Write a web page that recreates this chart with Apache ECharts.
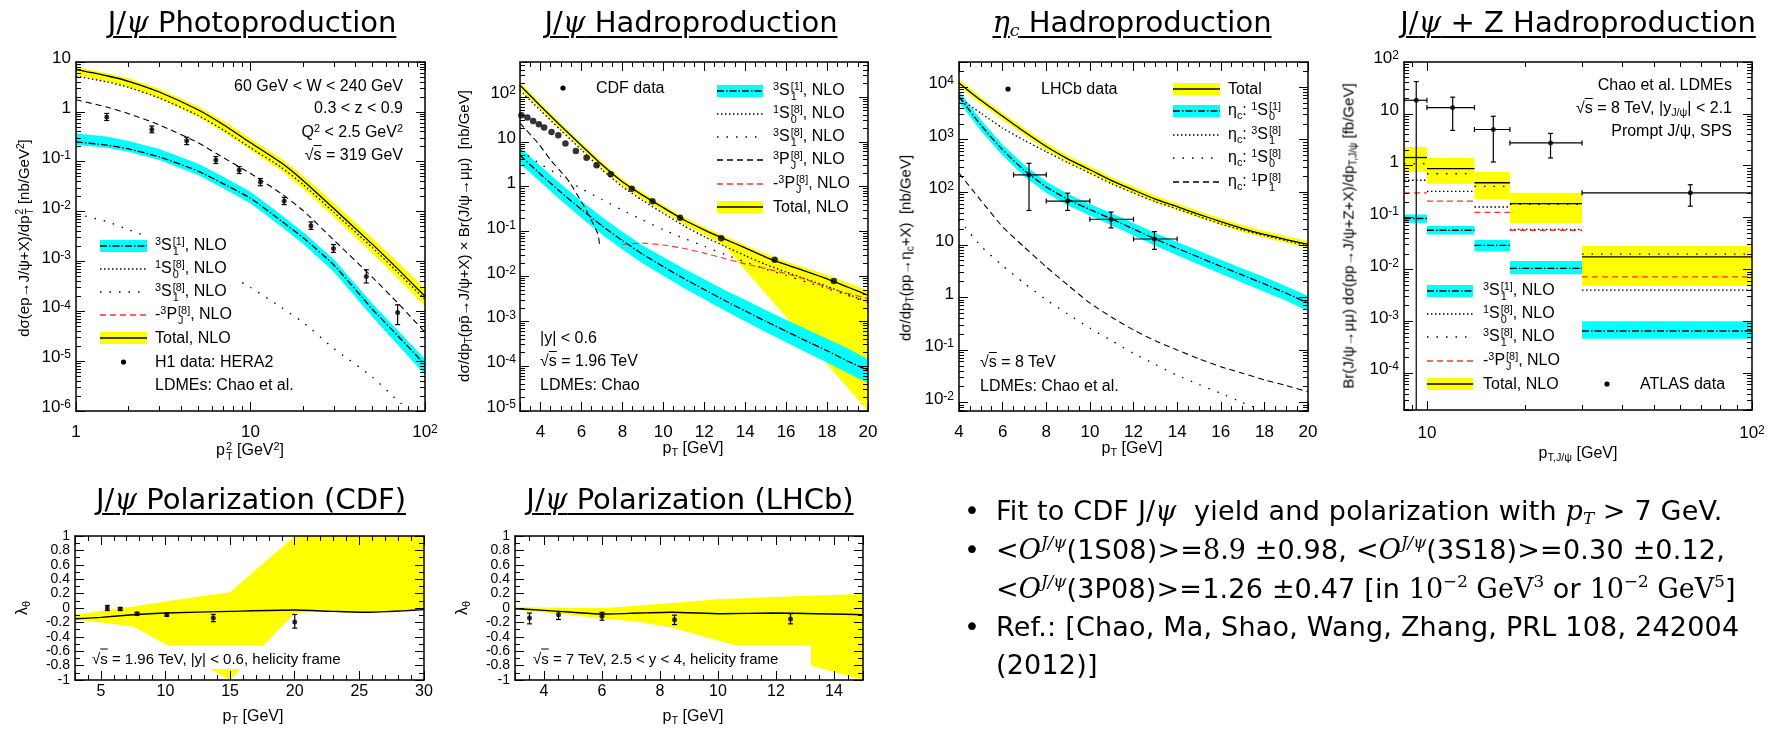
<!DOCTYPE html>
<html>
<head>
<meta charset="UTF-8">
<title>NRQCD with Chao et al. LDMEs</title>
<script src="https://cdn.jsdelivr.net/npm/echarts@6.0.0/dist/echarts.min.js"></script>
<style>
  html, body { margin: 0; padding: 0; background: #fff; }
  #page { position: relative; width: 1785px; height: 729px; overflow: hidden; }
  #chart { position: absolute; left: 0; top: 0; width: 1785px; height: 729px; }
  .tx { position: absolute; white-space: nowrap; line-height: 1; color: #000;
        font-family: "Liberation Sans", Arial, sans-serif; font-size: 16px; transform: translateY(-50%); }
  .rt { transform: translate(-100%, -50%); }
  .ct { transform: translate(-50%, -50%); }
  .rot { transform: translate(-50%, -50%) rotate(-90deg); font-size: 15px; }
  .tx sup { font-size: 0.68em; vertical-align: 0.5em; line-height: 0; }
  .tx sub { font-size: 0.68em; vertical-align: -0.3em; line-height: 0; }
  .ss { display: inline-block; font-size: 0.68em; line-height: 0.95; vertical-align: -0.42em; margin-left: 1px; }
  .ss span { display: block; }
  .ov { text-decoration: overline; }
  .ttl { position: absolute; white-space: nowrap; line-height: 1; color: #000;
         font-family: "DejaVu Sans", sans-serif; font-size: 29px;
         text-decoration: underline; text-decoration-thickness: 2px; text-underline-offset: 4px;
         transform: translateX(-50%); }
  .ttl i { font-family: "DejaVu Serif", serif; }
  .ttl sub { font-size: 0.6em; vertical-align: -0.25em; line-height: 0; }
  .bl { position: absolute; white-space: nowrap; line-height: 1; color: #000; letter-spacing: 0.2px;
        font-family: "DejaVu Sans", sans-serif; font-size: 27px; transform: translateY(-50%); }
  .bl .m { font-family: "DejaVu Serif", "Liberation Serif", serif; font-style: italic; letter-spacing: 0; }
  .bl .r { font-family: "DejaVu Serif", "Liberation Serif", serif; letter-spacing: 0; }
  .bl sup { font-size: 0.62em; vertical-align: 0.6em; line-height: 0; }
  .bl sub { font-size: 0.62em; vertical-align: -0.25em; line-height: 0; }
</style>
</head>
<body>
<div id="page">
  <div id="chart"></div>
</div>
<script type="text/javascript">

// ---------- J/psi photoproduction (H1, HERA2) ----------
var phPt2      = [1, 1.5, 2, 3, 5, 7, 10, 15, 20, 30, 50, 70, 100];
var phTotal    = [7.0, 5.3, 4.1, 2.5, 1.1, 0.55, 0.24, 0.095, 0.042, 0.0115, 2.2e-3, 7.0e-4, 2.0e-4];
var phTotalUp  = [7.9, 6.0, 4.7, 2.9, 1.3, 0.66, 0.29, 0.117, 0.053, 0.0150, 2.95e-3, 9.6e-4, 2.9e-4];
var phTotalLo  = [5.4, 4.1, 3.1, 1.85, 0.80, 0.40, 0.172, 0.067, 0.029, 7.8e-3, 1.45e-3, 4.5e-4, 1.25e-4];
var ph1S08     = [5.2, 4.0, 3.1, 1.9, 0.85, 0.43, 0.19, 0.077, 0.035, 9.7e-3, 1.88e-3, 6.0e-4, 1.72e-4];
var ph3S18     = [9.0e-3, 6.3e-3, 4.3e-3, 2.6e-3, 1.2e-3, 6.2e-4, 3.0e-4, 1.2e-4, 6.0e-5, 1.8e-5, 4.8e-6, 1.6e-6, 6.0e-7];
var ph3PJ8     = [1.75, 1.25, 0.92, 0.55, 0.24, 0.12, 0.058, 0.023, 0.0105, 2.7e-3, 4.8e-4, 1.45e-4, 3.8e-5];
var ph3S11     = [0.25, 0.215, 0.18, 0.125, 0.065, 0.036, 0.0185, 6.5e-3, 3.0e-3, 8.5e-4, 1.1e-4, 3.2e-5, 8.5e-6];
var ph3S11Up   = [0.37, 0.32, 0.26, 0.18, 0.092, 0.050, 0.025, 8.6e-3, 3.9e-3, 1.1e-3, 1.42e-4, 4.1e-5, 1.1e-5];
var ph3S11Lo   = [0.22, 0.19, 0.158, 0.108, 0.054, 0.029, 0.0145, 5.0e-3, 2.25e-3, 6.2e-4, 7.7e-5, 2.1e-5, 5.3e-6];
var h1Pt2 = [1.50, 2.72, 4.31, 6.33, 8.61, 11.4, 15.6, 22.2, 29.9, 46.1, 69.7];
var h1Val = [0.79, 0.443, 0.263, 0.108, 0.068, 0.039, 0.0163, 0.0052, 0.00182, 0.00050, 0.000095];
var h1Hi  = [0.93, 0.52, 0.31, 0.127, 0.080, 0.046, 0.0193, 0.0062, 0.00218, 0.00068, 0.000135];
var h1Lo  = [0.67, 0.38, 0.22, 0.092, 0.058, 0.033, 0.0138, 0.0044, 0.00152, 0.00037, 0.000054];

// ---------- J/psi hadroproduction (CDF) ----------
var hdPt      = [3, 4, 5, 6, 7, 8, 9, 10, 11, 12, 13, 14, 15, 16, 17, 18, 19, 20];
var hdTotal   = [182, 63, 22.4, 8.3, 3.1, 1.28, 0.64, 0.34, 0.183, 0.109, 0.068, 0.043, 0.027, 0.0182, 0.0128, 0.0088, 0.0058, 0.0038];
var hdTotalUp = [215, 73, 26, 9.6, 3.6, 1.48, 0.74, 0.39, 0.21, 0.126, 0.079, 0.050, 0.032, 0.0215, 0.0153, 0.0108, 0.0073, 0.0049];
var hdTotalLo = [150, 52, 18.5, 6.9, 2.55, 1.04, 0.52, 0.275, 0.145, 0.085, 0.048, 0.0138, 0.0041, 1.24e-3, 3.7e-4, 1.1e-4, 3.3e-5, 1.0e-5];
var hd1S08    = [140, 50, 18, 6.6, 2.4, 1.0, 0.49, 0.255, 0.135, 0.077, 0.047, 0.029, 0.0185, 0.0125, 0.0086, 0.0060, 0.0040, 0.0027];
var hd3S18    = [6.5, 3.2, 1.7, 0.9, 0.52, 0.30, 0.18, 0.11, 0.071, 0.047, 0.031, 0.021, 0.0145, 0.0105, 0.0075, 0.0054, 0.0038, 0.0026];
var hd3S11    = [5.0, 1.9, 0.75, 0.31, 0.135, 0.063, 0.031, 0.0165, 0.0090, 0.0051, 0.0029, 0.0017, 0.00100, 6.0e-4, 3.6e-4, 2.2e-4, 1.3e-4, 8.0e-5];
var hd3S11Up  = [7.6, 2.9, 1.15, 0.48, 0.21, 0.099, 0.049, 0.027, 0.0150, 0.0086, 0.0050, 0.0030, 0.00178, 0.00108, 6.6e-4, 4.1e-4, 2.5e-4, 1.4e-4];
var hd3S11Lo  = [3.3, 1.25, 0.49, 0.20, 0.086, 0.040, 0.0195, 0.0103, 0.0055, 0.0031, 0.00174, 0.00100, 5.8e-4, 3.4e-4, 2.0e-4, 1.2e-4, 7.0e-5, 4.2e-5];
var hd3PJPt   = [3, 3.9, 4.5, 5.35, 6.15, 6.8, 6.9];
var hd3PJ     = [26, 9.1, 3.9, 1.39, 0.35, 0.089, 0.045];
var hdm3PJPt  = [8, 9, 10, 11, 12, 13, 14, 15, 16, 17, 18, 19, 20];
var hdm3PJ    = [0.052, 0.055, 0.050, 0.042, 0.033, 0.025, 0.019, 0.0150, 0.0115, 0.0085, 0.0056, 0.0042, 0.0032];
var cdfPt  = [3.07, 3.36, 3.64, 3.92, 4.18, 4.54, 4.87, 5.22, 5.73, 6.25, 6.74, 7.43, 8.46, 9.47, 10.82, 12.83, 15.44, 18.33];
var cdfVal = [39, 34.6, 29.2, 24.6, 20.7, 16.6, 14, 9.1, 6.25, 4.4, 3.0, 1.88, 0.90, 0.47, 0.204, 0.071, 0.0235, 0.0079];

// ---------- eta_c hadroproduction (LHCb) ----------
var etaPt      = [4, 5, 6, 7, 8, 9, 10, 11, 12, 13, 14, 15, 16, 17, 18, 19, 20];
var etaTotal   = [12000, 5600, 2800, 1410, 740, 427, 268, 166, 110, 74, 53, 38, 27.6, 20.4, 15.8, 12.6, 10.2];
var etaTotalUp = [14000, 6500, 3250, 1640, 860, 495, 311, 193, 128, 86, 61.5, 44, 32, 23.7, 18.3, 14.6, 11.8];
var etaTotalLo = [10300, 4800, 2400, 1210, 636, 367, 230, 143, 95, 64, 45.5, 32.7, 23.7, 17.5, 13.6, 10.8, 8.8];
var eta1S01    = [6600, 1900, 640, 260, 126, 73, 47, 31, 20, 12.9, 8.6, 5.8, 3.9, 2.65, 1.8, 1.2, 0.78];
var eta1S01Up  = [8300, 2400, 800, 330, 160, 93, 60, 40, 26, 16.8, 11.3, 7.7, 5.2, 3.55, 2.45, 1.63, 1.06];
var eta1S01Lo  = [5200, 1480, 500, 200, 97, 56, 36, 23.5, 15, 9.6, 6.3, 4.2, 2.8, 1.9, 1.28, 0.86, 0.55];
var eta3S18    = [6200, 3200, 1660, 970, 590, 365, 230, 145, 97, 66, 48, 34.5, 25, 19, 15, 12, 9.5];
var eta1S08    = [30, 9.5, 4.0, 1.85, 0.9, 0.48, 0.26, 0.15, 0.086, 0.053, 0.033, 0.022, 0.015, 0.0100, 0.0068, 0.0047, 0.0033];
var eta1P18    = [230, 70, 22, 9.0, 3.8, 1.7, 0.78, 0.42, 0.24, 0.15, 0.10, 0.068, 0.048, 0.036, 0.027, 0.021, 0.016];
var lhcbPt   = [7.21, 8.98, 10.97, 12.96];
var lhcbPtLo = [6.5, 8, 10, 12];
var lhcbPtHi = [8, 10, 12, 14];
var lhcbVal  = [214, 68, 30.6, 12.9];
var lhcbHi   = [355, 96, 42, 17.8];
var lhcbLo   = [45, 45, 21, 8.2];

// ---------- J/psi + Z (ATLAS) ----------
var zEdges    = [8.5, 10, 14, 18, 30, 100];
var zTotal    = [1.44, 0.88, 0.47, 0.186, 0.0175];
var zTotalUp  = [2.3, 1.41, 0.76, 0.30, 0.0285];
var zTotalLo  = [0.76, 0.45, 0.224, 0.079, 0.0048];
var z3S18     = [1.1, 0.70, 0.40, 0.18, 0.0197];
var z1S08     = [0.525, 0.32, 0.16, 0.059, 0.004];
var zm3PJ8    = [0.30, 0.207, 0.126, 0.057, 0.0072];
var z3S11     = [0.096, 0.057, 0.029, 0.0105, 6.5e-4];
var z3S11Up   = [0.115, 0.069, 0.037, 0.0145, 1.0e-3];
var z3S11Lo   = [0.079, 0.047, 0.0228, 0.0081, 4.6e-4];
var atlasPt   = [9.27, 12.0, 16.0, 24.0, 64.6];
var atlasVal  = [18.3, 13.2, 5.0, 2.75, 0.30];
var atlasHi   = [42, 21, 9.0, 4.2, 0.43];
var atlasLo   = [1e-6, 4.8, 1.18, 1.41, 0.166];

// ---------- polarization, CDF ----------
var polCdfPt    = [3, 5, 7.5, 10, 12.5, 15, 17.5, 20, 22.5, 25, 27.5, 30];
var polCdfUp    = [-0.093, -0.04, 0.02, 0.09, 0.155, 0.22, 0.61, 1.0, 1.05, 1.05, 1.05, 1.05];
var polCdfLo    = [-0.16, -0.20, -0.256, -0.504, -0.752, -1.0, -0.535, -0.07, -0.045, -0.058, -0.05, -0.023];
var polCdfLineX = [3, 5, 7.5, 10, 15, 20, 23, 25.6, 30];
var polCdfLine  = [-0.149, -0.13, -0.093, -0.07, -0.047, -0.028, -0.047, -0.06, -0.023];
var cdfPolPt  = [5.5, 6.5, 7.8, 10.1, 13.7, 20];
var cdfPolVal = [0.0, -0.014, -0.08, -0.093, -0.14, -0.195];
var cdfPolHi  = [0.035, 0.006, -0.06, -0.073, -0.09, -0.09];
var cdfPolLo  = [-0.035, -0.034, -0.10, -0.113, -0.19, -0.28];

// ---------- polarization, LHCb ----------
var polLhcbPt    = [3, 5, 6.1, 7.3, 8.4, 10, 11.9, 13.2, 15];
var polLhcbUp    = [0.01, 0.005, 0.0, 0.035, 0.07, 0.12, 0.153, 0.17, 0.195];
var polLhcbLo    = [-0.02, -0.10, -0.15, -0.195, -0.27, -0.45, -0.66, -0.80, -1.0];
var polLhcbLineX = [3, 4, 5, 6, 7.3, 8.4, 10.1, 11.9, 15];
var polLhcbLine  = [-0.01, -0.033, -0.06, -0.084, -0.07, -0.06, -0.08, -0.07, -0.093];
var lhcbPolPt  = [3.5, 4.5, 6.0, 8.5, 12.5];
var lhcbPolVal = [-0.14, -0.093, -0.116, -0.163, -0.153];
var lhcbPolHi  = [-0.07, -0.05, -0.06, -0.10, -0.08];
var lhcbPolLo  = [-0.22, -0.16, -0.17, -0.23, -0.22];

var FONT = '"Liberation Sans", Arial, sans-serif';
var YELLOW = '#ffff00', CYAN = '#00ffff', RED = '#ff3030';
var DOTS = [1.5, 2.5], SPARSE = [1.5, 8], DASH = [6, 4], DASHDOT = [7, 2, 1.5, 2];

var grids = [
  {left: 76, top: 62, width: 349, height: 349},
  {left: 520, top: 62, width: 348, height: 349},
  {left: 959, top: 62, width: 349, height: 349},
  {left: 1404, top: 62, width: 348, height: 348},
  {left: 75, top: 536, width: 349, height: 144},
  {left: 515, top: 536, width: 348, height: 144}
];

var axisCfg = [
  {x: {type: 'log', min: 1, max: 100, margin: 13},
   y: {type: 'log', min: 1e-6, max: 10, margin: 5}},
  {x: {type: 'value', min: 3, max: 20, splitNumber: 8, minor: 4, hideMin: true, margin: 13},
   y: {type: 'log', min: 1e-5, max: 600, hideMax: true, margin: 4}},
  {x: {type: 'value', min: 4, max: 20, interval: 2, minor: 4, margin: 13},
   y: {type: 'log', min: 0.0069, max: 30000, hideMin: true, hideMax: true, margin: 5}},
  {x: {type: 'log', min: 8.5, max: 100, hideMin: true, margin: 15},
   y: {type: 'log', min: 1.95e-5, max: 100, hideMin: true, margin: 5}},
  {x: {type: 'value', min: 3, max: 30, splitNumber: 6, minor: 5, hideMin: true, fs: 16, margin: 4},
   y: {type: 'value', min: -1, max: 1, interval: 0.2, minor: 2, dec: true, fs: 14, margin: 5}},
  {x: {type: 'value', min: 3, max: 15, splitNumber: 6, minor: 4, hideMin: true, hideMax: true, fs: 16, margin: 4},
   y: {type: 'value', min: -1, max: 1, interval: 0.2, minor: 2, dec: true, fs: 14, margin: 5}}
];

function logFmt(v) {
  var e = Math.round(Math.log(v) / Math.LN10);
  if (e === 0) return '{b|1}';
  if (e === 1) return '{b|10}';
  return '{b|10}{s|' + e + '}';
}
function decFmt(v) { var r = Math.round(v * 10) / 10; return r === 0 ? '0' : String(r); }
function intFmt(v) { return String(Math.round(v)); }

var xAxes = [], yAxes = [];
function makeAxis(gi, cfg, isX, primary) {
  var a = {
    type: cfg.type, gridIndex: gi, min: cfg.min, max: cfg.max, z: 60,
    position: isX ? (primary ? 'bottom' : 'top') : (primary ? 'left' : 'right'),
    splitLine: {show: false},
    axisLine: {show: true, onZero: false, lineStyle: {color: '#000', width: 1.5}},
    axisTick: {show: true, inside: true, length: 9, lineStyle: {color: '#000', width: 1}},
    minorTick: {show: true, splitNumber: cfg.minor || 9, length: 5, lineStyle: {color: '#000', width: 1}},
    axisLabel: {show: false}
  };
  if (cfg.type === 'log') a.logBase = 10;
  if (cfg.interval != null) a.interval = cfg.interval;
  if (cfg.splitNumber != null) a.splitNumber = cfg.splitNumber;
  if (primary) {
    var fs = cfg.fs || 17;
    a.axisLabel = {
      show: true, color: '#000', fontFamily: FONT, fontSize: fs, margin: cfg.margin,
      hideOverlap: false, lineHeight: fs - 1,
      showMinLabel: !cfg.hideMin, showMaxLabel: !cfg.hideMax,
      formatter: cfg.type === 'log' ? logFmt : (cfg.dec ? decFmt : intFmt)
    };
    if (cfg.type === 'log') {
      a.axisLabel.rich = {
        b: {fontSize: fs, fontFamily: FONT, color: '#000', lineHeight: fs, padding: [7, 0, 0, 0], verticalAlign: 'bottom'},
        s: {fontSize: 12, fontFamily: FONT, color: '#000', lineHeight: 12, verticalAlign: 'top'}
      };
      if (!isX) a.axisLabel.padding = [0, 0, 7, 0];
    }
  }
  return a;
}
axisCfg.forEach(function (c, gi) {
  xAxes.push(makeAxis(gi, c.x, true, true));
  xAxes.push(makeAxis(gi, c.x, true, false));
  yAxes.push(makeAxis(gi, c.y, false, true));
  yAxes.push(makeAxis(gi, c.y, false, false));
});

function on(gi) { return {xAxisIndex: 2 * gi, yAxisIndex: 2 * gi}; }
function clipOf(params) {
  var c = params.coordSys;
  return {type: 'rect', shape: {x: c.x, y: c.y, width: c.width, height: c.height}};
}
function curve(gi, xs, ys, dash, color, width) {
  return Object.assign({
    type: 'line', silent: true, z: 6, symbol: 'none', smooth: 0.2, clip: true,
    data: xs.map(function (x, i) { return [x, ys[i]]; }),
    lineStyle: {color: color || '#000', width: width || 1.3, type: dash || 'solid'}
  }, on(gi));
}
function band(gi, xs, lo, hi, color) {
  return Object.assign({
    type: 'custom', silent: true, z: 3, clip: true,
    data: [[xs[0], lo[0]]],
    renderItem: function (params, api) {
      var pts = [], i;
      for (i = 0; i < xs.length; i++) pts.push(api.coord([xs[i], hi[i]]));
      for (i = xs.length - 1; i >= 0; i--) pts.push(api.coord([xs[i], lo[i]]));
      return {type: 'polygon', shape: {points: pts}, style: {fill: color}, clipPath: clipOf(params)};
    }
  }, on(gi));
}
function dots(gi, xs, ys, size) {
  return Object.assign({
    type: 'scatter', silent: true, z: 9, symbol: 'circle', symbolSize: size || 5,
    itemStyle: {color: '#000'},
    data: xs.map(function (x, i) { return [x, ys[i]]; })
  }, on(gi));
}
function errors(gi, xs, ys, lo, hi, xlo, xhi, cap) {
  return Object.assign({
    type: 'custom', silent: true, z: 8, clip: true,
    data: xs.map(function (x, i) {
      return [x, ys[i], lo[i], hi[i], xlo ? xlo[i] : x, xhi ? xhi[i] : x];
    }),
    renderItem: function (params, api) {
      var x = api.value(0), y = api.value(1);
      var a = api.coord([x, api.value(2)]), b = api.coord([x, api.value(3)]);
      var st = {stroke: '#000', lineWidth: 1.2};
      function seg(x1, y1, x2, y2) {
        return {type: 'line', shape: {x1: x1, y1: y1, x2: x2, y2: y2}, style: st, clipPath: clipOf(params)};
      }
      var ch = [seg(a[0], a[1], b[0], b[1]), seg(a[0] - cap, a[1], a[0] + cap, a[1]), seg(b[0] - cap, b[1], b[0] + cap, b[1])];
      if (api.value(4) !== x) {
        var l = api.coord([api.value(4), y]), r = api.coord([api.value(5), y]);
        ch.push(seg(l[0], l[1], r[0], r[1]));
        ch.push(seg(l[0], l[1] - cap, l[0], l[1] + cap));
        ch.push(seg(r[0], r[1] - cap, r[0], r[1] + cap));
      }
      return {type: 'group', children: ch};
    }
  }, on(gi));
}
function steps(gi, edges, vals, dash, color) {
  return Object.assign({
    type: 'custom', silent: true, z: 6, clip: true,
    data: vals.map(function (v, i) { return [edges[i], v, edges[i + 1]]; }),
    renderItem: function (params, api) {
      var p0 = api.coord([api.value(0), api.value(1)]), p1 = api.coord([api.value(2), api.value(1)]);
      return {type: 'line', shape: {x1: p0[0], y1: p0[1], x2: p1[0], y2: p1[1]},
        style: {stroke: color || '#000', lineWidth: 1.3, lineDash: dash || null}, clipPath: clipOf(params)};
    }
  }, on(gi));
}
function stepBand(gi, edges, lo, hi, color) {
  return Object.assign({
    type: 'custom', silent: true, z: 3, clip: true,
    data: lo.map(function (v, i) { return [edges[i], hi[i], edges[i + 1], v]; }),
    renderItem: function (params, api) {
      var p0 = api.coord([api.value(0), api.value(1)]), p1 = api.coord([api.value(2), api.value(3)]);
      return {type: 'rect', shape: {x: p0[0], y: p0[1], width: p1[0] - p0[0], height: p1[1] - p0[1]},
        style: {fill: color}, clipPath: clipOf(params)};
    }
  }, on(gi));
}

var series = [
  // photoproduction
  band(0, phPt2, phTotalLo, phTotalUp, YELLOW),
  band(0, phPt2, ph3S11Lo, ph3S11Up, CYAN),
  curve(0, phPt2, ph3S11, DASHDOT),
  curve(0, phPt2, ph1S08, DOTS),
  curve(0, phPt2, ph3S18, SPARSE),
  curve(0, phPt2, ph3PJ8, DASH, '#000', 1.1),
  curve(0, phPt2, phTotal),
  errors(0, h1Pt2, h1Val, h1Lo, h1Hi, null, null, 2.5),
  dots(0, h1Pt2, h1Val, 5),
  // hadroproduction
  band(1, hdPt, hdTotalLo, hdTotalUp, YELLOW),
  band(1, hdPt, hd3S11Lo, hd3S11Up, CYAN),
  curve(1, hdPt, hd3S11, DASHDOT),
  curve(1, hdPt, hd1S08, DOTS),
  curve(1, hdPt, hd3S18, SPARSE),
  curve(1, hd3PJPt, hd3PJ, DASH, '#000', 1.1),
  curve(1, hdm3PJPt, hdm3PJ, DASH, RED, 1.1),
  curve(1, hdPt, hdTotal),
  dots(1, cdfPt, cdfVal, 6.5),
  // eta_c
  band(2, etaPt, etaTotalLo, etaTotalUp, YELLOW),
  band(2, etaPt, eta1S01Lo, eta1S01Up, CYAN),
  curve(2, etaPt, eta1S01, DASHDOT),
  curve(2, etaPt, eta3S18, DOTS),
  curve(2, etaPt, eta1S08, SPARSE),
  curve(2, etaPt, eta1P18, DASH, '#000', 1.1),
  curve(2, etaPt, etaTotal),
  errors(2, lhcbPt, lhcbVal, lhcbLo, lhcbHi, lhcbPtLo, lhcbPtHi, 2.5),
  dots(2, lhcbPt, lhcbVal, 5),
  // J/psi + Z
  stepBand(3, zEdges, zTotalLo, zTotalUp, YELLOW),
  stepBand(3, zEdges, z3S11Lo, z3S11Up, CYAN),
  steps(3, zEdges, z3S11, DASHDOT),
  steps(3, zEdges, z1S08, DOTS),
  steps(3, zEdges, zm3PJ8, DASH, RED),
  steps(3, zEdges, z3S18, SPARSE),
  steps(3, zEdges, zTotal),
  errors(3, atlasPt, atlasVal, atlasLo, atlasHi, zEdges.slice(0, 5), zEdges.slice(1), 2.5),
  dots(3, atlasPt, atlasVal, 5),
  // polarization CDF
  band(4, polCdfPt, polCdfLo, polCdfUp, YELLOW),
  curve(4, polCdfLineX, polCdfLine, null, '#000', 1.4),
  errors(4, cdfPolPt, cdfPolVal, cdfPolLo, cdfPolHi, null, null, 2.5),
  dots(4, cdfPolPt, cdfPolVal, 5),
  // polarization LHCb
  band(5, polLhcbPt, polLhcbLo, polLhcbUp, YELLOW),
  curve(5, polLhcbLineX, polLhcbLine, null, '#000', 1.4),
  errors(5, lhcbPolPt, lhcbPolVal, lhcbPolLo, lhcbPolHi, null, null, 2.5),
  dots(5, lhcbPolPt, lhcbPolVal, 5)
];

// legend samples and white boxes
var gfx = [];
function sample(x, y, kind, w) {
  w = w || 46;
  function seg(dash, color) {
    return {type: 'line', z: 101, shape: {x1: x, y1: y, x2: x + w, y2: y},
      style: {stroke: color || '#000', lineWidth: 1.3, lineDash: dash || null}};
  }
  if (kind === 'cyan' || kind === 'yellow') {
    gfx.push({type: 'rect', z: 100, shape: {x: x, y: y - 6, width: w, height: 12},
      style: {fill: kind === 'cyan' ? CYAN : YELLOW}});
    gfx.push(seg(kind === 'cyan' ? DASHDOT : null));
  } else if (kind === 'dense') gfx.push(seg(DOTS));
  else if (kind === 'sparse') gfx.push(seg(SPARSE));
  else if (kind === 'dash') gfx.push(seg(DASH));
  else if (kind === 'red') gfx.push(seg(DASH, RED));
  else if (kind === 'dot') gfx.push({type: 'circle', z: 101, shape: {cx: x + w / 2, cy: y, r: 2.6}, style: {fill: '#000'}});
}
gfx.push({type: 'rect', z: 90, shape: {x: 95, y: 236, width: 143, height: 160}, style: {fill: '#fff'}});
gfx.push({type: 'rect', z: 90, shape: {x: 85, y: 645, width: 178, height: 24}, style: {fill: '#fff'}});
gfx.push({type: 'rect', z: 90, shape: {x: 525, y: 645, width: 286, height: 24}, style: {fill: '#fff'}});
['cyan', 'dense', 'sparse', 'red', 'yellow', 'dot'].forEach(function (k, i) { sample(100, [246, 269, 292, 315, 338, 362][i], k, 47); });
['cyan', 'dense', 'sparse', 'dash', 'red', 'yellow'].forEach(function (k, i) { sample(717, [91, 114, 137, 160, 184, 207][i], k, 46); });
sample(540, 88, 'dot', 46);
['yellow', 'cyan', 'dense', 'sparse', 'dash'].forEach(function (k, i) { sample(1173, [89, 111, 135, 158, 182][i], k, 47); });
sample(985, 89, 'dot', 46);
['cyan', 'dense', 'sparse', 'red', 'yellow'].forEach(function (k, i) { sample(1427, [291, 314, 337, 361, 384][i], k, 46); });
sample(1584, 384, 'dot', 46);

var chart = echarts.init(document.getElementById('chart'), null, {renderer: 'canvas'});
chart.setOption({
  animation: false,
  backgroundColor: '#fff',
  grid: grids.map(function (g) { return Object.assign({containLabel: false, outerBoundsMode: 'none'}, g); }),
  xAxis: xAxes,
  yAxis: yAxes,
  series: series,
  graphic: gfx
});

// ---------- text ----------
var page = document.getElementById('page');
function T(x, y, html, cls, css) {
  var d = document.createElement('div');
  d.className = cls || 'tx';
  d.style.left = x + 'px';
  d.style.top = y + 'px';
  if (css) d.style.cssText += css;
  d.innerHTML = html;
  page.appendChild(d);
}
function ss(a, b) { return '<span class="ss"><span>' + a + '</span><span>' + b + '</span></span>'; }
var SQ = '&radic;<span class="ov">s</span>';
var S11 = '<sup>3</sup>S' + ss('[1]', '1') + ', NLO';
var S08 = '<sup>1</sup>S' + ss('[8]', '0') + ', NLO';
var S18 = '<sup>3</sup>S' + ss('[8]', '1') + ', NLO';
var PJ8 = '<sup>3</sup>P' + ss('[8]', 'J') + ', NLO';

// slide titles
T(252, 8, 'J/<i>ψ</i> Photoproduction', 'ttl');
T(691, 8, 'J/<i>ψ</i> Hadroproduction', 'ttl');
T(1132, 8, '<i>η<sub>c</sub></i> Hadroproduction', 'ttl');
T(1578, 8, 'J/<i>ψ</i> + Z Hadroproduction', 'ttl');
T(251, 485, 'J/<i>ψ</i> Polarization (CDF)', 'ttl');
T(690, 485, 'J/<i>ψ</i> Polarization (LHCb)', 'ttl');

// panel 1
T(25, 238, 'dσ(ep→J/ψ+X)/dp' + ss('2', 'T') + ' [nb/GeV<sup>2</sup>]', 'tx rot');
T(250, 451, 'p' + ss('2', 'T') + ' [GeV<sup>2</sup>]', 'tx ct');
T(403, 86, '60 GeV &lt; W &lt; 240 GeV', 'tx rt');
T(403, 108, '0.3 &lt; z &lt; 0.9', 'tx rt');
T(403, 132, 'Q<sup>2</sup> &lt; 2.5 GeV<sup>2</sup>', 'tx rt');
T(403, 155, SQ + ' = 319 GeV', 'tx rt');
[S11, S08, S18, '-' + PJ8, 'Total, NLO', 'H1 data: HERA2', 'LDMEs: Chao et al.'].forEach(function (s, i) {
  T(155, [246, 269, 292, 315, 338, 362, 385][i], s);
});

// panel 2
T(463, 236, 'dσ/dp<sub>T</sub>(pp&#772;→J/ψ+X) × Br(J/ψ→μμ)&nbsp; [nb/GeV]', 'tx rot');
T(693, 448, 'p<sub>T</sub> [GeV]', 'tx ct');
T(596, 88, 'CDF data');
[S11, S08, S18, PJ8, '-' + PJ8, 'Total, NLO'].forEach(function (s, i) {
  T(773, [91, 114, 137, 160, 184, 207][i], s);
});
T(540, 338, '|y| &lt; 0.6');
T(540, 361, SQ + ' = 1.96 TeV');
T(540, 385, 'LDMEs: Chao');

// panel 3
T(905, 248, 'dσ/dp<sub>T</sub>(pp→η<sub>c</sub>+X)&nbsp; [nb/GeV]', 'tx rot');
T(1132, 448, 'p<sub>T</sub> [GeV]', 'tx ct');
T(1041, 89, 'LHCb data');
['Total', 'η<sub>c</sub>: <sup>1</sup>S' + ss('[1]', '0'), 'η<sub>c</sub>: <sup>3</sup>S' + ss('[8]', '1'),
 'η<sub>c</sub>: <sup>1</sup>S' + ss('[8]', '0'), 'η<sub>c</sub>: <sup>1</sup>P' + ss('[8]', '1')].forEach(function (s, i) {
  T(1228, [89, 111, 135, 158, 182][i], s);
});
T(980, 362, SQ + ' = 8 TeV');
T(980, 386, 'LDMEs: Chao et al.');

// panel 4
T(1348, 236, 'Br(J/ψ→μμ) dσ(pp→J/ψ+Z+X)/dp<sub>T,J/ψ</sub> [fb/GeV]', 'tx rot');
T(1578, 453, 'p<sub>T,J/ψ</sub> [GeV]', 'tx ct');
T(1732, 85, 'Chao et al. LDMEs', 'tx rt');
T(1732, 108, SQ + ' = 8 TeV, |y<sub>J/ψ</sub>| &lt; 2.1', 'tx rt');
T(1732, 131, 'Prompt J/ψ, SPS', 'tx rt');
[S11, S08, S18, '-' + PJ8, 'Total, NLO'].forEach(function (s, i) {
  T(1483, [291, 314, 337, 361, 384][i], s);
});
T(1640, 384, 'ATLAS data');

// panels 5 and 6
T(22, 608, 'λ<sub>θ</sub>', 'tx rot', 'font-size:16px;');
T(253, 716, 'p<sub>T</sub> [GeV]', 'tx ct');
T(92, 658, SQ + ' = 1.96 TeV, |y| &lt; 0.6, helicity frame', 'tx', 'font-size:15px;');
T(462, 608, 'λ<sub>θ</sub>', 'tx rot', 'font-size:16px;');
T(693, 716, 'p<sub>T</sub> [GeV]', 'tx ct');
T(533, 658, SQ + ' = 7 TeV, 2.5 &lt; y &lt; 4, helicity frame', 'tx', 'font-size:15px;');

// bullets
var O = '&lt;<span class="m">O</span><sup class="m">J/ψ</sup>';
var PM = '<span class="r">±</span>';
T(964, 510, '•', 'bl');
T(996, 510, 'Fit to CDF J/<span class="m">ψ</span>&nbsp; yield and polarization with <span class="m">p<sub>T</sub></span> &gt; 7 GeV.', 'bl');
T(964, 549, '•', 'bl');
T(996, 549, O + '(1S08)&gt;=<span class="r">8.9</span> ' + PM + '0.98, ' + O + '(3S18)&gt;=0.30 ' + PM + '0.12,', 'bl');
T(996, 588, O + '(3P08)&gt;=1.26 ' + PM + '0.47 [in <span class="r">10<sup>−2</sup> GeV<sup>3</sup></span> or <span class="r">10<sup>−2</sup> GeV<sup>5</sup></span>]', 'bl');
T(964, 626, '•', 'bl');
T(996, 626, 'Ref.: [Chao, Ma, Shao, Wang, Zhang, PRL 108, 242004', 'bl');
T(996, 664, '(2012)]', 'bl');
</script>
</body>
</html>
